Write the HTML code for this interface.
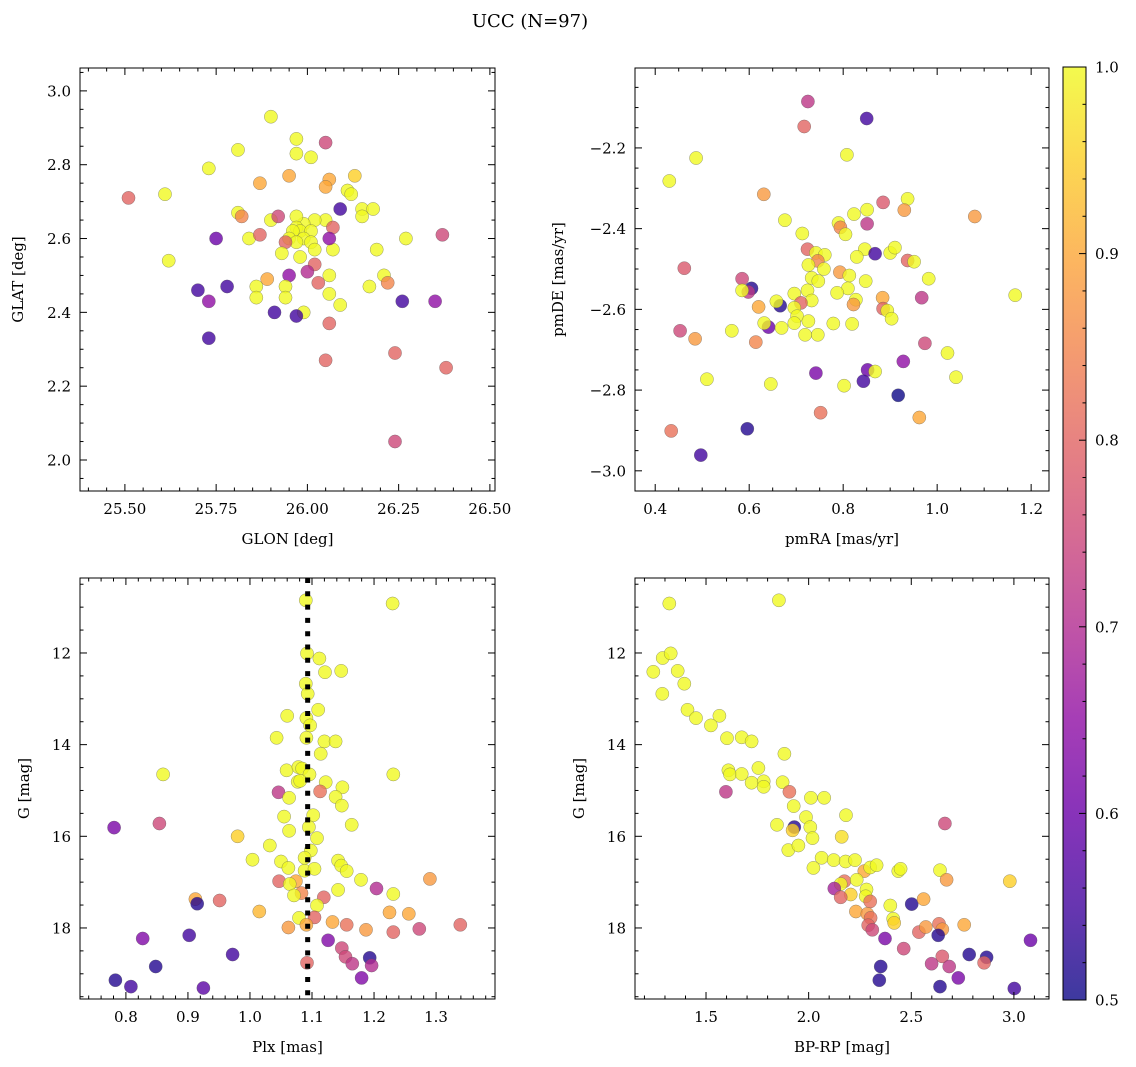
<!DOCTYPE html>
<html><head><meta charset="utf-8">
<style>
html,body{margin:0;padding:0;background:#fff;}
svg{display:block;font-family:"DejaVu Serif","Liberation Serif",serif;}
</style></head>
<body>
<svg id="fig" width="1136" height="1067" viewBox="0 0 1136 1067" xmlns="http://www.w3.org/2000/svg">
<defs>
<linearGradient id="plasmaGrad" x1="0" y1="1" x2="0" y2="0"></linearGradient>
</defs>
<text x="530" y="27" font-size="18" text-anchor="middle">UCC (N=97)</text>
</svg>
<script>
// ---------- data: [x, y, probability] per panel ----------
const posData = [
[25.51,2.71,.8],[25.61,2.72,1],[25.62,2.54,1],[25.73,2.79,1],[25.81,2.84,1],[25.90,2.93,1],[25.97,2.87,1],[25.97,2.83,1],
[26.05,2.86,.75],[26.01,2.82,1],[25.95,2.77,.9],[26.13,2.77,.95],[26.06,2.76,.9],[26.05,2.74,.9],[26.11,2.73,1],[26.12,2.72,1],
[25.87,2.75,.9],[25.81,2.67,1],[25.82,2.66,.85],[25.90,2.65,1],[25.92,2.66,.75],[26.15,2.68,1],[26.18,2.68,1],[26.15,2.66,1],
[26.09,2.68,.55],[26.05,2.65,1],[26.02,2.65,1],[25.99,2.64,1],[25.97,2.66,1],[25.97,2.63,1],[25.98,2.62,1],[25.96,2.62,1],
[26.01,2.62,1],[25.99,2.60,1],[25.95,2.60,1],[25.97,2.59,1],[26.01,2.59,1],[26.07,2.63,.8],[26.07,2.57,1],[26.02,2.57,1],
[25.94,2.59,.8],[26.02,2.53,.8],[25.84,2.60,1],[25.87,2.61,.8],[25.75,2.60,.6],[26.19,2.57,1],[26.27,2.60,1],[26.37,2.61,.75],
[26.06,2.60,.65],[25.98,2.55,1],[25.93,2.56,1],[26.00,2.51,.7],[25.95,2.50,.65],[25.89,2.49,.9],[25.86,2.47,1],[25.86,2.44,1],
[25.94,2.47,1],[25.94,2.44,1],[26.06,2.50,1],[26.21,2.50,1],[26.22,2.48,.85],[26.17,2.47,1],[26.03,2.48,.8],[26.09,2.42,1],
[26.06,2.45,1],[25.70,2.46,.55],[25.78,2.47,.55],[25.73,2.43,.65],[25.91,2.40,.55],[25.99,2.40,1],[25.97,2.39,.55],[26.06,2.37,.8],
[26.26,2.43,.55],[26.35,2.43,.65],[25.73,2.33,.55],[26.05,2.27,.8],[26.24,2.29,.8],[26.38,2.25,.8],[26.24,2.05,.75]
];
const pmData = [
[0.725,-2.085,.72],[0.85,-2.127,.55],[0.717,-2.147,.8],[0.808,-2.217,1],[0.487,-2.225,1],[0.43,-2.282,1],[0.631,-2.315,.88],
[0.885,-2.335,.78],[0.937,-2.326,1],[0.93,-2.354,.88],[1.08,-2.37,.88],[0.851,-2.353,1],[0.823,-2.364,1],[0.851,-2.388,.72],
[0.676,-2.379,1],[0.79,-2.386,1],[0.794,-2.397,.85],[0.805,-2.414,1],[0.713,-2.412,1],[0.724,-2.451,.8],[0.742,-2.46,1],
[0.761,-2.465,1],[0.746,-2.48,.85],[0.726,-2.49,1],[0.759,-2.50,1],[0.846,-2.451,1],[0.868,-2.462,.55],[0.9,-2.46,1],
[0.91,-2.447,1],[0.829,-2.47,1],[0.937,-2.479,.8],[0.951,-2.482,1],[0.982,-2.524,1],[1.166,-2.565,1],[0.967,-2.571,.72],
[0.793,-2.508,.88],[0.813,-2.516,1],[0.733,-2.522,1],[0.747,-2.53,1],[0.848,-2.53,1],[0.81,-2.548,1],[0.787,-2.559,1],
[0.724,-2.553,1],[0.696,-2.561,1],[0.733,-2.578,1],[0.71,-2.584,.8],[0.827,-2.576,1],[0.822,-2.588,.88],[0.884,-2.571,.9],
[0.885,-2.598,.8],[0.894,-2.603,1],[0.903,-2.623,1],[0.585,-2.524,.75],[0.605,-2.548,.52],[0.598,-2.557,.72],[0.585,-2.553,1],
[0.666,-2.591,.52],[0.658,-2.58,1],[0.62,-2.594,.9],[0.696,-2.596,1],[0.702,-2.617,1],[0.696,-2.634,1],[0.726,-2.629,1],
[0.641,-2.644,.6],[0.632,-2.634,1],[0.669,-2.646,1],[0.719,-2.663,1],[0.746,-2.663,1],[0.779,-2.635,1],[0.819,-2.636,1],
[0.462,-2.498,.78],[0.453,-2.653,.75],[0.485,-2.673,.88],[0.563,-2.653,1],[0.614,-2.681,.85],[0.974,-2.684,.75],[1.022,-2.708,1],
[0.928,-2.729,.65],[1.04,-2.768,1],[0.852,-2.75,.6],[0.868,-2.754,1],[0.843,-2.778,.55],[0.742,-2.758,.62],[0.802,-2.789,1],
[0.646,-2.785,1],[0.51,-2.773,1],[0.917,-2.813,.5],[0.752,-2.856,.82],[0.962,-2.868,.9],[0.434,-2.901,.82],[0.596,-2.896,.52],
[0.497,-2.961,.55]
];
const plxData = [
[1.090,10.85,1],[1.23,10.92,1],[1.092,12.01,1],[1.112,12.12,1],[1.121,12.42,1],[1.147,12.39,1],[1.09,12.67,1],[1.093,12.89,1],
[1.11,13.24,1],[1.06,13.37,1],[1.091,13.42,1],[1.097,13.58,1],[1.043,13.85,1],[1.091,13.85,1],[1.12,13.93,1],[1.138,13.93,1],
[1.114,14.2,1],[0.86,14.65,1],[1.231,14.65,1],[1.059,14.56,1],[1.078,14.49,1],[1.084,14.52,1],[1.096,14.65,1],[1.077,14.81,1],
[1.081,14.79,1],[1.122,14.82,1],[1.149,14.93,1],[1.046,15.04,.72],[1.113,15.02,.82],[1.063,15.16,1],[1.138,15.14,1],[1.148,15.33,1],
[1.055,15.57,1],[1.102,15.54,1],[0.781,15.81,.62],[0.854,15.72,.75],[1.063,15.88,1],[1.095,15.8,1],[1.164,15.75,1],[0.98,16.0,.95],
[1.108,16.04,1],[1.032,16.2,1],[1.004,16.51,1],[1.098,16.31,1],[1.05,16.55,1],[1.088,16.47,1],[1.142,16.53,1],[1.147,16.64,1],
[1.156,16.76,1],[1.062,16.69,1],[1.088,16.75,1],[1.104,16.71,1],[1.179,16.95,1],[1.29,16.93,.88],[1.047,16.98,.8],[1.074,16.98,.9],
[1.064,17.04,1],[1.204,17.14,.7],[1.142,17.17,1],[1.231,17.26,1],[1.083,17.24,.85],[1.071,17.29,1],[1.119,17.33,.8],[0.912,17.37,.9],
[0.915,17.47,.52],[0.951,17.4,.8],[1.108,17.51,1],[1.015,17.64,.92],[1.225,17.66,.9],[1.256,17.69,.9],[1.079,17.78,1],[1.104,17.77,.8],
[1.133,17.87,.9],[1.091,17.93,.9],[1.062,17.99,.88],[1.156,17.93,.82],[1.187,18.04,.88],[1.231,18.09,.8],[1.273,18.02,.75],[1.339,17.93,.8],
[0.827,18.23,.63],[0.902,18.16,.55],[1.126,18.27,.63],[1.148,18.44,.75],[0.972,18.58,.55],[1.154,18.63,.75],[1.165,18.78,.72],
[1.193,18.65,.52],[1.196,18.82,.7],[1.092,18.76,.8],[0.848,18.84,.52],[1.18,19.09,.63],[0.783,19.14,.52],[0.808,19.28,.55],[0.925,19.31,.58]
];
const cmdData = [
[1.321,10.92,1],[1.855,10.85,1],[1.289,12.11,1],[1.328,12.01,1],[1.243,12.41,1],[1.362,12.39,1],[1.394,12.67,1],[1.287,12.89,1],
[1.41,13.24,1],[1.451,13.42,1],[1.565,13.37,1],[1.524,13.58,1],[1.602,13.86,1],[1.674,13.84,1],[1.722,13.93,1],[1.882,14.2,1],
[1.609,14.56,1],[1.617,14.65,1],[1.674,14.64,1],[1.755,14.51,1],[1.722,14.83,1],[1.781,14.8,1],[1.781,14.92,1],[1.873,14.82,1],
[1.597,15.03,.72],[1.906,15.03,.82],[1.927,15.34,1],[2.011,15.16,1],[2.076,15.16,1],[1.987,15.58,1],[2.182,15.54,1],[1.846,15.75,1],
[1.93,15.8,.52],[1.922,15.87,.95],[2.008,15.8,1],[2.019,16.04,1],[2.161,16.01,.97],[2.664,15.72,.75],[1.901,16.3,1],[1.95,16.2,1],
[2.063,16.47,1],[2.122,16.52,1],[2.18,16.55,1],[2.226,16.52,1],[2.023,16.69,1],[2.271,16.76,.9],[2.3,16.68,1],[2.331,16.63,1],
[2.437,16.76,1],[2.448,16.71,1],[2.64,16.74,1],[2.672,16.95,.88],[2.98,16.98,.95],[2.174,16.98,.82],[2.156,17.04,1],[2.125,17.14,.68],
[2.234,16.95,1],[2.282,17.16,1],[2.205,17.27,.95],[2.278,17.31,1],[2.156,17.33,.8],[2.3,17.42,.82],[2.398,17.51,1],[2.502,17.48,.52],
[2.56,17.37,.9],[2.23,17.64,.9],[2.286,17.69,.88],[2.302,17.78,.82],[2.412,17.8,1],[2.417,17.89,.95],[2.29,17.94,.8],[2.31,18.04,.75],
[2.537,18.09,.8],[2.571,17.98,.88],[2.635,17.91,.82],[2.651,18.03,.88],[2.631,18.16,.52],[2.758,17.93,.9],[2.372,18.23,.62],
[2.463,18.45,.75],[3.081,18.27,.6],[2.782,18.58,.52],[2.867,18.64,.52],[2.855,18.76,.8],[2.651,18.62,.78],[2.599,18.78,.72],
[2.685,18.84,.72],[2.351,18.84,.52],[2.344,19.14,.52],[2.729,19.09,.62],[2.64,19.28,.52],[3.002,19.32,.55]
];
const plxMedian = 1.093;
const cbTicks = [0.5,0.6,0.7,0.8,0.9,1.0];

// ---------- colormap ----------
const plasma = ["#0d0887","#41049d","#6a00a8","#8f0da4","#b12a90","#cc4778","#e16462","#f2844b","#fca636","#fcce25","#f0f921"];
function hex2rgb(h){return [parseInt(h.slice(1,3),16),parseInt(h.slice(3,5),16),parseInt(h.slice(5,7),16)];}
function cmap(p){
  let t=Math.max(0,Math.min(1,(p-0.5)/0.5))*10;
  let i=Math.min(9,Math.floor(t)),f=t-i;
  const a=hex2rgb(plasma[i]),b=hex2rgb(plasma[i+1]);
  return "rgb("+a.map((v,k)=>Math.round(v+(b[k]-v)*f)).join(",")+")";
}

const NS="http://www.w3.org/2000/svg";
const svg=document.getElementById("fig");
function mk(tag,attrs,parent){const e=document.createElementNS(NS,tag);for(const k in attrs)e.setAttribute(k,attrs[k]);(parent||svg).appendChild(e);return e;}

function panel(cfg){
  const g=mk("g",{});
  
  
  const {x0,y0,x1,y1}=cfg.box;
  const sx=v=>x0+(v-cfg.xr[0])/(cfg.xr[1]-cfg.xr[0])*(x1-x0);
  const sy=cfg.yInv? (v=>y0+(v-cfg.yr[0])/(cfg.yr[1]-cfg.yr[0])*(y1-y0)) : (v=>y1-(v-cfg.yr[0])/(cfg.yr[1]-cfg.yr[0])*(y1-y0));
  const pg=mk("g",{},g);
  
  
  cfg.data.forEach(d=>{
    const c=mk("circle",{cx:sx(d[0]).toFixed(1),cy:sy(d[1]).toFixed(1),r:6.6,fill:cmap(d[2]),"fill-opacity":0.8,stroke:"#555","stroke-width":0.5,"stroke-opacity":0.6},pg);
    
    
  });
  if(cfg.vline!==undefined){
    const l=mk("line",{x1:sx(cfg.vline),x2:sx(cfg.vline),y1:y0,y2:y1,stroke:"#000","stroke-width":5,"stroke-dasharray":"5 8.3"},g);
    
    
  }
  const fr=mk("rect",{x:x0,y:y0,width:x1-x0,height:y1-y0,fill:"none",stroke:"#000","stroke-width":1},g);
  
  
  const tg=mk("g",{stroke:"#000","stroke-width":1},g);
  const eps=1e-9;
  for(let v=Math.ceil(cfg.xr[0]/cfg.xmin-eps)*cfg.xmin; v<=cfg.xr[1]+eps; v+=cfg.xmin){
    const X=sx(v);
    const major=Math.abs(v/cfg.xmaj-Math.round(v/cfg.xmaj))<1e-6;
    const L=major?7:3.5;
    mk("line",{x1:X,x2:X,y1:y1,y2:y1-L},tg);mk("line",{x1:X,x2:X,y1:y0,y2:y0+L},tg);
    if(major){
      const t=mk("text",{x:X,y:y1+23,"font-size":15,"text-anchor":"middle",stroke:"none",fill:"#000"},g);
      t.textContent=v.toFixed(cfg.xdec);
      
      
    }
  }
  for(let v=Math.ceil(cfg.yr[0]/cfg.ymin-eps)*cfg.ymin; v<=cfg.yr[1]+eps; v+=cfg.ymin){
    const Y=sy(v);
    const major=Math.abs(v/cfg.ymaj-Math.round(v/cfg.ymaj))<1e-6;
    const L=major?7:3.5;
    mk("line",{x1:x0,x2:x0+L,y1:Y,y2:Y},tg);mk("line",{x1:x1,x2:x1-L,y1:Y,y2:Y},tg);
    if(major){
      const t=mk("text",{x:x0-9,y:Y+5.5,"font-size":15,"text-anchor":"end",stroke:"none",fill:"#000"},g);
      t.textContent=(v<0?"\u2212":"")+Math.abs(v).toFixed(cfg.ydec);
      
      
    }
  }
  const xl=mk("text",{x:(x0+x1)/2,y:y1+53,"font-size":15,"text-anchor":"middle"},g);
  xl.textContent=cfg.xlabel;
  
  
  const yl=mk("text",{x:0,y:0,"font-size":15,"text-anchor":"middle",transform:"translate("+cfg.ylx+","+((y0+y1)/2)+") rotate(-90)"},g);
  yl.textContent=cfg.ylabel;
  
  
}

panel({name:"glon-glat-panel",box:{x0:80,y0:68,x1:495,y1:491},xr:[25.377,26.514],yr:[1.916,3.062],xmaj:0.25,xmin:0.05,ymaj:0.2,ymin:0.05,xdec:2,ydec:1,data:posData,xlabel:"GLON [deg]",ylabel:"GLAT [deg]",ylx:23});
panel({name:"pm-panel",box:{x0:635,y0:68,x1:1049,y1:491},xr:[0.357,1.238],yr:[-3.05,-2.002],xmaj:0.2,xmin:0.05,ymaj:0.2,ymin:0.05,xdec:1,ydec:1,data:pmData,xlabel:"pmRA [mas/yr]",ylabel:"pmDE [mas/yr]",ylx:563});
panel({name:"plx-g-panel",box:{x0:80,y0:578,x1:495,y1:999},xr:[0.726,1.395],yr:[10.364,19.55],yInv:true,xmaj:0.1,xmin:0.02,ymaj:2,ymin:0.5,xdec:1,ydec:0,data:plxData,xlabel:"Plx [mas]",ylabel:"G [mag]",ylx:29,vline:plxMedian});
panel({name:"cmd-panel",box:{x0:635,y0:578,x1:1049,y1:999},xr:[1.154,3.171],yr:[10.364,19.55],yInv:true,xmaj:0.5,xmin:0.1,ymaj:2,ymin:0.5,xdec:1,ydec:0,data:cmdData,xlabel:"BP-RP [mag]",ylabel:"G [mag]",ylx:584});

const grad=document.getElementById("plasmaGrad");
for(let i=0;i<=20;i++){const p=0.5+i*0.025;mk("stop",{offset:(i/20),"stop-color":cmap(p),"stop-opacity":0.8},grad);}
const cb=mk("g",{});


const cbY0=67,cbY1=1000,cbX0=1063,cbX1=1086;
const cy=v=>cbY1-(v-0.5)/0.5*(cbY1-cbY0);
mk("rect",{x:cbX0,y:cbY0,width:cbX1-cbX0,height:cbY1-cbY0,fill:"url(#plasmaGrad)",stroke:"#000","stroke-width":1},cb);
for(let v=0.5;v<=1.0001;v+=0.02){
  const Y=cy(v);
  const major=Math.abs(v*10-Math.round(v*10))<1e-6;
  mk("line",{x1:cbX1,x2:cbX1-(major?7:3.5),y1:Y,y2:Y,stroke:"#000","stroke-width":1},cb);
}
cbTicks.forEach(v=>{
  const t=mk("text",{x:cbX1+9,y:cy(v)+5.5,"font-size":15},cb);
  t.textContent=v.toFixed(1);
  
  
});
</script>
</body></html>
